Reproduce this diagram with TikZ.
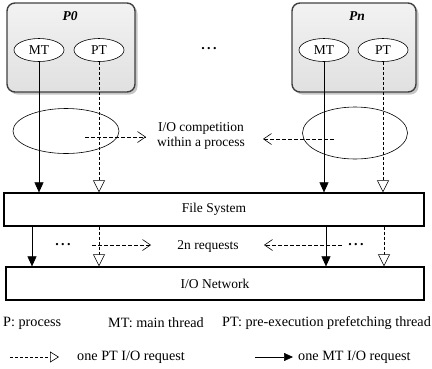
\documentclass[tikz,border=0pt]{standalone}
\usepackage{fontspec}
\setmainfont{Liberation Serif}
\usetikzlibrary{arrows.meta,shadows,shapes.geometric}
\begin{document}
\begin{tikzpicture}[x=1pt,y=-1pt,
  every node/.style={font=\fontsize{13.5}{15}\selectfont},
  procbox/.style={draw=black!75, line width=1.4pt, rounded corners=8pt, top color=gray!10, bottom color=gray!24,
    drop shadow={shadow xshift=2.5pt, shadow yshift=-2.5pt, opacity=0.45}},
  thread/.style={draw, ellipse, fill=white, line width=0.6pt, minimum width=50pt, minimum height=23pt, inner sep=0pt},
  compell/.style={draw, ellipse, line width=0.6pt, inner sep=0pt},
  layerbox/.style={draw, line width=1.3pt, fill=white},
  mtarrow/.style={line width=0.6pt, -{Triangle[width=9pt,length=10pt]}},
  ptarrow/.style={line width=0.6pt, dash pattern=on 3pt off 2pt, -{Triangle[open, width=12pt, length=12pt, fill=white]}},
  flowarrow/.style={line width=0.6pt, dash pattern=on 4pt off 2pt, -{Straight Barb[length=8pt, width=11pt]}},
  dots/.style={font=\fontsize{14}{15}\selectfont\bfseries, inner sep=0pt},
  legend/.style={anchor=west, inner sep=0pt, font=\fontsize{14.2}{16}\selectfont}
]
\useasboundingbox (0,0) rectangle (432,368);

% process boxes
\draw[procbox] (7,3) rectangle (135,92);
\draw[procbox] (292,3) rectangle (416,92);
\node (p0) at (70,16) {\textbf{\textit{P0}}};
\node (pn) at (357,16) {\textbf{\textit{Pn}}};
\node[dots] (topdots) at (209,49) {.\,.\,.};

% competition ellipses
\node[compell, minimum width=106pt, minimum height=45pt] (c0) at (66,131) {};
\node[compell, minimum width=105pt, minimum height=52pt] (cn) at (355,133) {};

% threads
\node[thread] (mt0) at (39,50) {MT};
\node[thread] (pt0) at (99,50) {PT};
\node[thread] (mtn) at (324,50) {MT};
\node[thread] (ptn) at (383,50) {PT};

% layer boxes
\node[layerbox, minimum width=420pt, minimum height=33pt, inner sep=0pt] (fs) at (214,209.5) {File System};
\node[layerbox, minimum width=418pt, minimum height=33pt, inner sep=0pt] (net) at (215,283.5) {I/O Network};

% arrows thread -> file system
\draw[mtarrow] (mt0.south) -- (mt0.south |- fs.north);
\draw[ptarrow] (pt0.south) -- (pt0.south |- fs.north);
\draw[mtarrow] (mtn.south) -- (mtn.south |- fs.north);
\draw[ptarrow] (ptn.south) -- (ptn.south |- fs.north);

% competition label and arrows
\node[align=center, inner sep=0pt] (comp) at (201,135.5) {I/O competition\\within a process};
\coordinate (a0s) at (85,137);
\coordinate (a0e) at (146,137);
\coordinate (ans) at (334,139);
\coordinate (ane) at (263,139);
\draw[flowarrow] (a0s) -- (a0e);
\draw[flowarrow] (ans) -- (ane);

% file system -> network
\coordinate (m0x) at (32,0);
\coordinate (mnx) at (326,0);
\coordinate (pnx) at (384,0);
\draw[mtarrow] (m0x |- fs.south) -- (m0x |- net.north);
\draw[ptarrow] (pt0.south |- fs.south) -- (pt0.south |- net.north);
\draw[mtarrow] (mnx |- fs.south) -- (mnx |- net.north);
\draw[ptarrow] (pnx |- fs.south) -- (pnx |- net.north);

\node[dots] (ldots) at (63,245) {.\,.\,.};
\node[dots] (rdots) at (356,245) {.\,.\,.};
\node[inner sep=0pt] (req) at (208,246) {2n requests};
\coordinate (b0s) at (92,245);
\coordinate (b0e) at (151,245);
\coordinate (bns) at (342,245);
\coordinate (bne) at (264,245);
\draw[flowarrow] (b0s) -- (b0e);
\draw[flowarrow] (bns) -- (bne);

% legend
\node[legend] (lp) at (3,323) {P: process};
\node[legend] (lmt) at (108,323) {MT: main thread};
\node[legend] (lpt) at (222,323) {PT: pre-execution prefetching thread};
\coordinate (lds) at (10,357);
\coordinate (lde) at (59,357);
\draw[line width=0.6pt, dash pattern=on 3pt off 2pt, -{Triangle[open, width=11pt, length=9pt, fill=white]}] (lds) -- (lde);
\node[legend] (lptr) at (77,357) {one PT I/O request};
\coordinate (lss) at (255,357);
\coordinate (lse) at (293,357);
\draw[line width=0.6pt, -{Triangle[width=8pt, length=9pt]}] (lss) -- (lse);
\node[legend] (lmtr) at (298,357) {one MT I/O request};
\end{tikzpicture}
\end{document}
